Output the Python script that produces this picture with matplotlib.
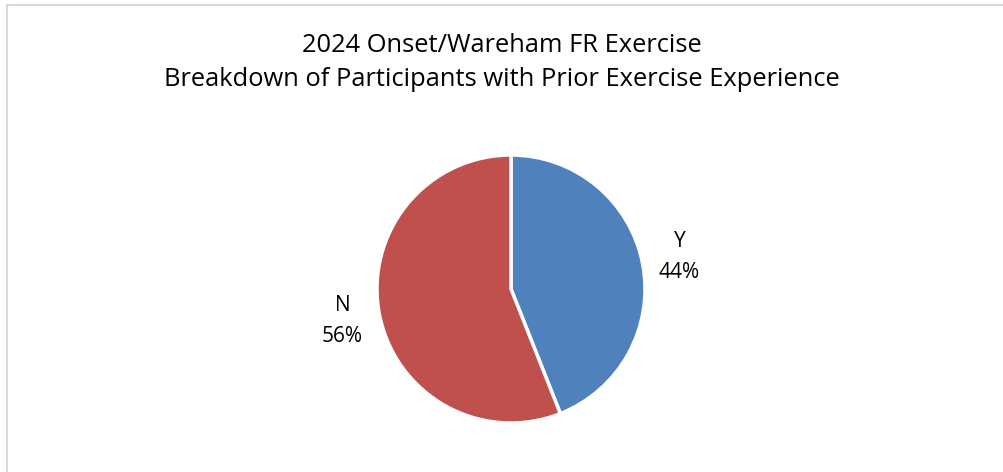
import matplotlib
matplotlib.use("Agg")
import matplotlib.pyplot as plt
from matplotlib.patches import Rectangle

categories = ["Y", "N"]
values = [44, 56]
colors = ["#4F81BD", "#C0504D"]
title_lines = ["2024 Onset/Wareham FR Exercise",
               "Breakdown of Participants with Prior Exercise Experience"]

W, H = 1004, 472
fig = plt.figure(figsize=(W / 100, H / 100), dpi=100)
plt.rcParams['font.family'] = ['Open Sans', 'DejaVu Sans']

# chart border
fig.patches.append(Rectangle((6.5 / W, -0.1), 1.2, (H - 4.5) / H + 0.1,
                             transform=fig.transFigure, fill=False,
                             edgecolor="#D9D9D9", linewidth=1.5))

cx, cy, r = 511, 289, 134
ax = fig.add_axes([(cx - r) / W, (H - cy - r) / H, 2 * r / W, 2 * r / H])
labels = [f"{c}\n{v}%" for c, v in zip(categories, values)]
wedges, texts = ax.pie(values, labels=labels, colors=colors, startangle=90,
                       counterclock=False, labeldistance=1.28,
                       wedgeprops=dict(edgecolor="white", linewidth=2.5),
                       textprops=dict(fontsize=15, color="#000000",
                                      linespacing=1.6))
for t in texts:
    t.set_ha("center")
    t.set_va("center")
ax.set_xlim(-1, 1)
ax.set_ylim(-1, 1)
ax.set_aspect("auto")
ax.axis("off")

fig.text(0.5, 1 - 45 / H, title_lines[0], ha="center", va="center", fontsize=18.4)
fig.text(0.5, 1 - 80 / H, title_lines[1], ha="center", va="center", fontsize=18.4)

fig.savefig("out.png", dpi=100)
